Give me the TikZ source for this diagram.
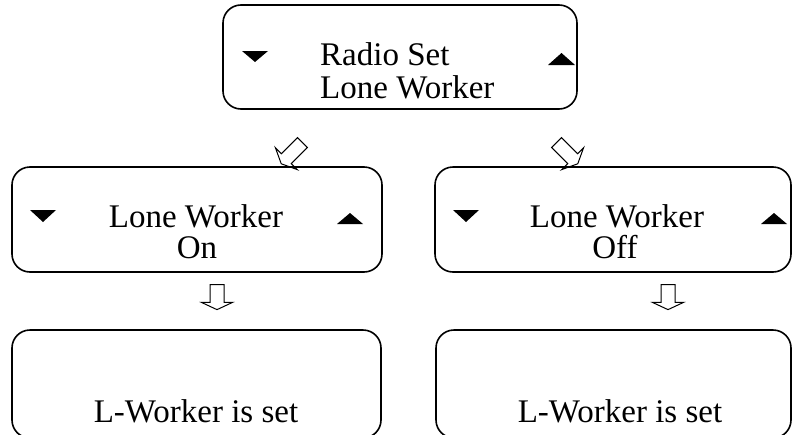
\documentclass[tikz,border=0pt]{standalone}
\usepackage{fontspec}
\setmainfont{Liberation Serif}
\usepackage{tikz}
\usetikzlibrary{shapes.arrows}

\tikzset{
    screen/.style={draw, line width=1.6pt, rounded corners=18pt, inner sep=0pt},
    lcd/.style={font=\fontsize{33}{38}\selectfont, inner sep=0pt, anchor=base},
    hollow/.style={single arrow, draw, line width=1pt, inner xsep=0pt, inner ysep=6.5pt,
        single arrow head extend=8.5pt, single arrow tip angle=130}
}

\begin{document}
\begin{tikzpicture}[x=1pt, y=-1pt]
    \useasboundingbox (0,0) rectangle (795,434);
    % screens
    \node[screen, minimum width=354pt, minimum height=104pt] (radioSet) at (400,57) {};
    \node[screen, minimum width=370pt, minimum height=105pt] (loneOn) at (197,219.5) {};
    \node[screen, minimum width=356pt, minimum height=105pt] (loneOff) at (613,219.5) {};
    \node[screen, minimum width=369pt, minimum height=108pt] (setOn) at (196.5,384) {};
    \node[screen, minimum width=355pt, minimum height=108pt] (setOff) at (613.5,384) {};
    % texts
    \node[lcd, anchor=base west] (radioA) at (320,65) {Radio Set};
    \node[lcd, anchor=base west] (radioB) at (320,98) {Lone Worker};
    \node[lcd] (onA) at (196,227) {Lone Worker};
    \node[lcd] (onB) at (197,258) {On};
    \node[lcd] (offA) at (617,227) {Lone Worker};
    \node[lcd] (offB) at (615,258) {Off};
    \node[lcd] (setOnTxt) at (196,422) {L-Worker is set};
    \node[lcd] (setOffTxt) at (620,422) {L-Worker is set};
    % scroll marks
    \fill (242,51) -- (268,51) -- (255,62) -- cycle;
    \fill (548,65) -- (575,65) -- (561.5,53) -- cycle;
    \fill (30,210) -- (56,210) -- (43,222) -- cycle;
    \fill (337,224) -- (363,224) -- (350,213) -- cycle;
    \fill (453,210) -- (479,210) -- (466,222) -- cycle;
    \fill (761,224) -- (787,224) -- (774,213) -- cycle;
    % arrows
    \node[hollow, minimum height=30pt, rotate=225] (toOn) at (293,152) {};
    \node[hollow, minimum height=30pt, rotate=-45] (toOff) at (566,152) {};
    \node[hollow, minimum height=25pt, rotate=-90] (onDone) at (217,295.5) {};
    \node[hollow, minimum height=25pt, rotate=-90] (offDone) at (668,295.5) {};
\end{tikzpicture}
\end{document}
